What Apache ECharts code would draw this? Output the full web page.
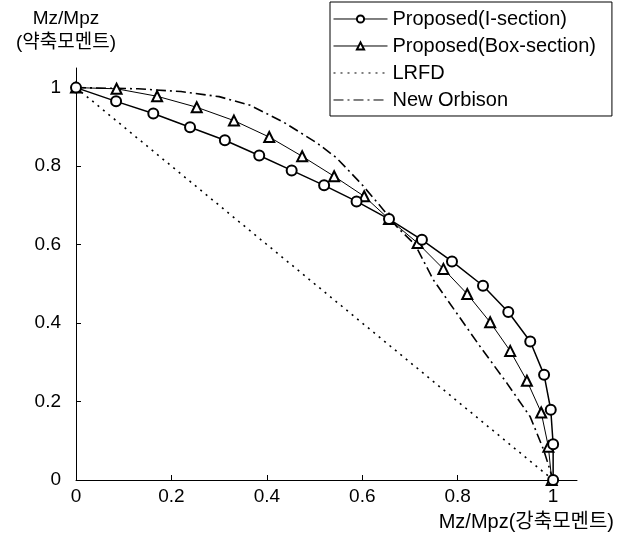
<!DOCTYPE html>
<html>
<head>
<meta charset="utf-8">
<script src="https://cdn.jsdelivr.net/npm/echarts@6/dist/echarts.min.js"></script>
<style>
  html, body { margin: 0; padding: 0; background: #fff; }
  #chart { width: 620px; height: 535px; }
</style>
</head>
<body>
<div id="chart"></div>
<script>
// Interaction curves: strong-axis moment ratio (x) vs weak-axis moment ratio (y)
const iSectionX = [0, 0.084, 0.162, 0.239, 0.312, 0.384, 0.452, 0.520, 0.588, 0.656, 0.725, 0.788, 0.853, 0.906, 0.952, 0.981, 0.995, 1.0, 1.0];
const iSectionY = [1.0, 0.965, 0.934, 0.899, 0.866, 0.827, 0.789, 0.751, 0.710, 0.665, 0.612, 0.557, 0.495, 0.428, 0.353, 0.268, 0.179, 0.091, 0.0];

const boxSectionX = [0, 0.085, 0.170, 0.253, 0.331, 0.405, 0.474, 0.541, 0.604, 0.656, 0.716, 0.770, 0.820, 0.868, 0.910, 0.945, 0.975, 0.990, 0.997];
const boxSectionY = [1.0, 0.997, 0.978, 0.950, 0.916, 0.874, 0.825, 0.774, 0.723, 0.665, 0.604, 0.538, 0.474, 0.402, 0.329, 0.253, 0.172, 0.085, 0.0];

const lrfdX = [0, 1.0];
const lrfdY = [1.0, 0];

const orbisonX = [0, 0.13, 0.22, 0.30, 0.365, 0.435, 0.505, 0.546, 0.60, 0.644, 0.672, 0.711, 0.749, 0.798, 0.847, 0.903, 0.952, 0.98, 1.0];
const orbisonY = [1.0, 0.997, 0.99, 0.977, 0.955, 0.912, 0.859, 0.821, 0.752, 0.689, 0.646, 0.599, 0.510, 0.425, 0.340, 0.247, 0.161, 0.077, 0.0];

const seriesNames = ['Proposed(I-section)', 'Proposed(Box-section)', 'LRFD', 'New Orbison'];
const tickValues = [0, 0.2, 0.4, 0.6, 0.8, 1];

const zip = (xs, ys) => xs.map((x, i) => [x, ys[i]]);

const FONT = '"Liberation Sans", Arial, "Noto Sans CJK KR", sans-serif';
const KFONT = '"Liberation Sans", "Noto Sans CJK KR", sans-serif';

const axisCommon = {
  type: 'value',
  min: 0,
  max: 1.05,
  axisLine: { show: true, lineStyle: { color: '#000', width: 1 } },
  axisTick: { show: true, inside: true, length: 5, lineStyle: { color: '#000' }, customValues: tickValues },
  splitLine: { show: false },
  axisLabel: { color: '#000', fontSize: 19, fontFamily: FONT, customValues: tickValues,
               formatter: v => String(+v.toFixed(1)) }
};

// Plain line samples (no marker) for the two reference curves in the legend
const plainLegendItem = name => ({ name, itemStyle: { opacity: 0, color: 'rgba(0,0,0,0)', borderColor: 'rgba(0,0,0,0)' } });

const chart = echarts.init(document.getElementById('chart'), null, { renderer: 'canvas' });
chart.setOption({
  backgroundColor: '#fff',
  animation: false,
  grid: { left: 76, right: 43, top: 68, bottom: 55, containLabel: false },
  xAxis: Object.assign({}, axisCommon, { axisLabel: Object.assign({}, axisCommon.axisLabel, { margin: 7 }) }),
  yAxis: Object.assign({}, axisCommon, { axisLabel: Object.assign({}, axisCommon.axisLabel, { margin: 15 }) }),
  legend: {
    orient: 'vertical',
    left: 330,
    top: 2,
    padding: [7, 16, 6, 3],
    itemWidth: 54,
    itemHeight: 9,
    itemGap: 7,
    backgroundColor: '#fff',
    borderColor: '#000',
    borderWidth: 1,
    lineStyle: { width: 1 },
    textStyle: { color: '#000', fontSize: 20, fontFamily: FONT },
    data: [seriesNames[0], seriesNames[1], plainLegendItem(seriesNames[2]), plainLegendItem(seriesNames[3])]
  },
  graphic: [
    { type: 'text', style: { text: 'Mz/Mpz', x: 66, y: 19, align: 'center', verticalAlign: 'middle', fill: '#000', font: '19px ' + KFONT } },
    { type: 'text', style: { text: '(약축모멘트)', x: 66, y: 43, align: 'center', verticalAlign: 'middle', fill: '#000', font: '19px ' + KFONT } },
    { type: 'text', style: { text: 'Mz/Mpz(강축모멘트)', x: 614, y: 522, align: 'right', verticalAlign: 'middle', fill: '#000', font: '20px ' + KFONT } }
  ],
  series: [
    {
      name: seriesNames[0], type: 'line', data: zip(iSectionX, iSectionY),
      symbol: 'emptyCircle', symbolSize: 10,
      lineStyle: { color: '#000', width: 1.5 },
      itemStyle: { color: '#000', borderWidth: 1.3 },
      z: 4
    },
    {
      name: seriesNames[1], type: 'line', data: zip(boxSectionX, boxSectionY),
      symbol: 'emptyTriangle', symbolSize: 10,
      lineStyle: { color: '#000', width: 1 },
      itemStyle: { color: '#000', borderWidth: 1.3 },
      z: 3
    },
    {
      name: seriesNames[2], type: 'line', data: zip(lrfdX, lrfdY),
      symbol: 'none',
      lineStyle: { color: '#000', width: 1.6, type: [2, 5] },
      itemStyle: { color: '#000' },
      z: 2
    },
    {
      name: seriesNames[3], type: 'line', data: zip(orbisonX, orbisonY),
      symbol: 'none',
      lineStyle: { color: '#000', width: 1.6, type: [10, 4, 2, 4] },
      itemStyle: { color: '#000' },
      z: 2
    }
  ]
});
</script>
</body>
</html>
